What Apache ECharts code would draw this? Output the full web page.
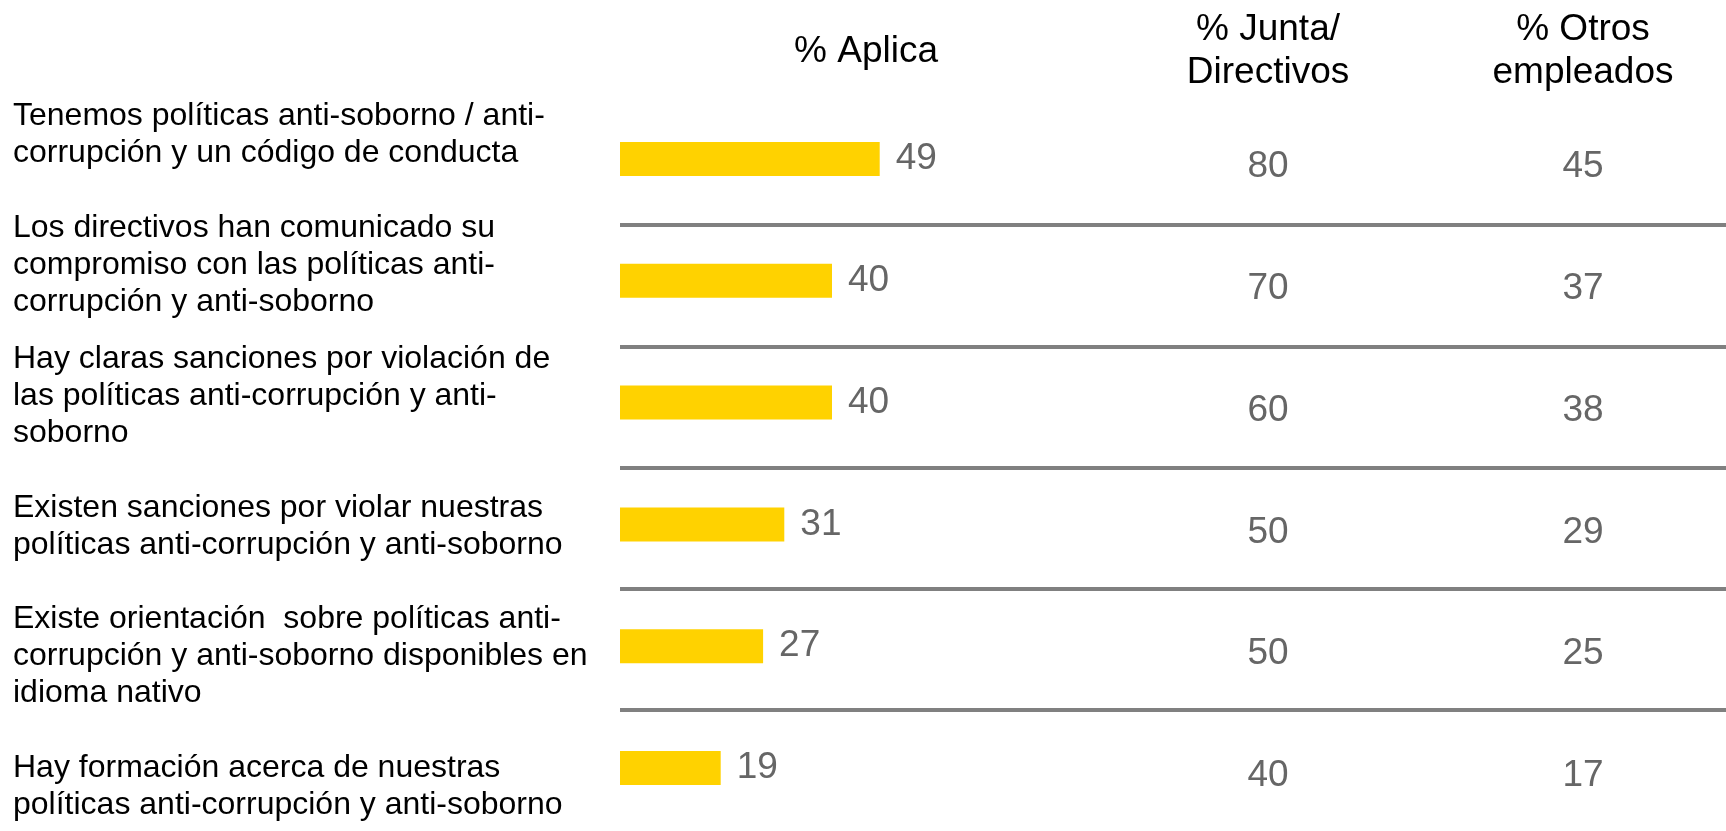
<!DOCTYPE html>
<html lang="es">
<head>
    <meta charset="UTF-8">
    <title>Políticas anti-corrupción</title>
    <style type="text/css">
        html, body { margin: 0; padding: 0; background: #fff; }
        #policyChart { width: 1726px; height: 831px; }
    </style>
</head>
<body>
<div id="policyChart"></div>

<script src="https://cdn.jsdelivr.net/npm/echarts@6/dist/echarts.min.js"></script>
<script type="text/javascript">
    // filas (texto de la izquierda)
    var policyItems = [
        'Tenemos políticas anti-soborno / anti-\ncorrupción y un código de conducta',
        'Los directivos han comunicado su\ncompromiso con las políticas anti-\ncorrupción y anti-soborno',
        'Hay claras sanciones por violación de\nlas políticas anti-corrupción y anti-\nsoborno',
        'Existen sanciones por violar nuestras\npolíticas anti-corrupción y anti-soborno',
        'Existe orientación  sobre políticas anti-\ncorrupción y anti-soborno disponibles en\nidioma nativo',
        'Hay formación acerca de nuestras\npolíticas anti-corrupción y anti-soborno'
    ];
    // cabeceras de columnas
    var aplicaHeader = '% Aplica';
    var columnHeaders = ['% Junta/\nDirectivos', '% Otros\nempleados'];

    // valores
    var aplicaValues = [49, 40, 40, 31, 27, 19];
    var juntaValues = [80, 70, 60, 50, 50, 40];
    var otrosValues = [45, 37, 38, 29, 25, 17];

    var font = "'Liberation Sans', Arial, sans-serif";
    var valueColor = '#666666';

    var policyChart = echarts.init(document.getElementById('policyChart'));

    // scatter invisible, solo se ve la etiqueta con el valor
    var columnSeries = function (values, col) {
        return {
            type: 'scatter',
            xAxisIndex: 2,
            yAxisIndex: 2,
            symbolSize: 1,
            itemStyle: { color: 'rgba(0,0,0,0)', opacity: 1 },
            label: {
                show: true,
                position: 'inside',
                offset: [0, 8],
                fontSize: 37,
                color: valueColor,
                textBorderWidth: 0,
                formatter: function (p) { return p.value[2]; }
            },
            data: values.map(function (v, i) { return [col, i, v]; })
        };
    };

    var policyChartOption = {
        animation: false,
        textStyle: { fontFamily: font },
        grid: [
            // barras
            { left: 620, top: 98, width: 530, height: 731 },
            // lineas separadoras
            { left: 620, right: 0, top: 104, height: 731 },
            // columnas Junta / Otros
            { left: 1268, width: 315, top: 98, height: 731 },
            // textos de la izquierda (primer y ultimo texto en los bordes)
            { left: 620, width: 10, top: 135, height: 652 }
        ],
        xAxis: [
            {
                gridIndex: 0, type: 'value', min: 0, max: 100, position: 'top',
                name: aplicaHeader, nameLocation: 'middle', nameGap: 46.5,
                nameTextStyle: {
                    fontSize: 37, color: '#000', verticalAlign: 'middle',
                    padding: [0, 38, 0, 0]
                },
                axisLine: { show: false }, axisTick: { show: false },
                axisLabel: { show: false }, splitLine: { show: false }
            },
            {
                gridIndex: 1, type: 'value', min: 0, max: 1, show: false
            },
            {
                gridIndex: 2, type: 'category', position: 'top', boundaryGap: false,
                data: columnHeaders,
                axisLine: { show: false }, axisTick: { show: false },
                axisLabel: {
                    fontSize: 37, lineHeight: 43, color: '#000',
                    verticalAlign: 'middle', margin: 46.5, interval: 0
                },
                splitLine: { show: false }
            },
            {
                gridIndex: 3, type: 'value', min: 0, max: 1, show: false
            }
        ],
        yAxis: [
            {
                gridIndex: 0, type: 'category', inverse: true, data: policyItems,
                axisLine: { show: false }, axisTick: { show: false },
                axisLabel: { show: false }
            },
            {
                gridIndex: 1, type: 'category', inverse: true, data: policyItems,
                axisLine: { show: false }, axisTick: { show: false },
                axisLabel: { show: false },
                splitLine: {
                    show: true, interval: 0,
                    showMinLine: false, showMaxLine: false,
                    lineStyle: { color: '#808080', width: 4 }
                }
            },
            {
                gridIndex: 2, type: 'category', inverse: true, data: policyItems,
                show: false
            },
            {
                gridIndex: 3, type: 'category', inverse: true, boundaryGap: false,
                data: policyItems,
                axisLine: { show: false }, axisTick: { show: false },
                splitLine: { show: false },
                axisLabel: {
                    interval: 0, align: 'left', margin: 607,
                    fontSize: 32, lineHeight: 37, color: '#000'
                }
            }
        ],
        series: [
            {
                type: 'bar',
                xAxisIndex: 0,
                yAxisIndex: 0,
                barWidth: 34,
                itemStyle: { color: '#FFD200' },
                label: {
                    show: true,
                    position: 'right',
                    distance: 16,
                    fontSize: 37,
                    color: valueColor
                },
                data: aplicaValues
            },
            columnSeries(juntaValues, 0),
            columnSeries(otrosValues, 1)
        ]
    };

    policyChart.setOption(policyChartOption);
</script>
</body>
</html>
